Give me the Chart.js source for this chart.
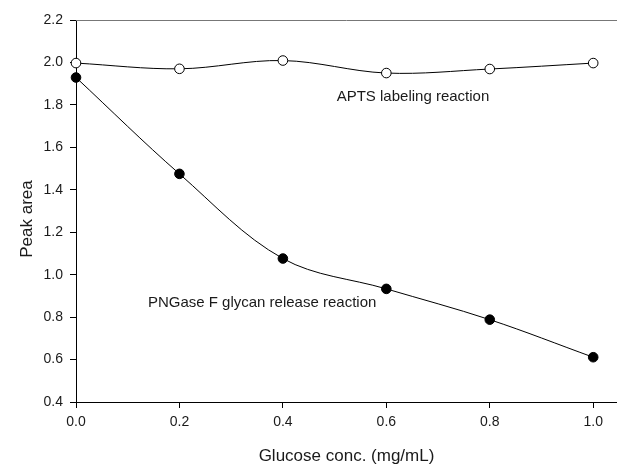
<!DOCTYPE html>
<html>
<head>
<meta charset="utf-8">
<title>Peak area vs glucose conc.</title>
<script src="https://cdn.jsdelivr.net/npm/chart.js@4"></script>
<style>
    html, body { margin: 0; padding: 0; background: #fff; overflow: hidden; }
    #wrap { width: 617px; height: 464px; position: relative; }
</style>
</head>
<body>
<div id="wrap"><canvas id="chart"></canvas></div>
<script>
// --- DADOS ---
const glucoseConc = [0.0, 0.2, 0.4, 0.6, 0.8, 1.0];
const aptsArea = [1.997, 1.970, 2.009, 1.950, 1.969, 1.997];
const pngaseArea = [1.929, 1.475, 1.076, 0.933, 0.788, 0.611];
const xTicks = [0.0, 0.2, 0.4, 0.6, 0.8, 1.0];
const yTicks = [0.4, 0.6, 0.8, 1.0, 1.2, 1.4, 1.6, 1.8, 2.0, 2.2];

// rótulos dentro do gráfico (posição em unidades dos eixos)
const notes = [
    { text: 'APTS labeling reaction', x: 0.504, y: 1.840 },
    { text: 'PNGase F glycan release reaction', x: 0.139, y: 0.867 }
];

const FONT = '"Liberation Sans", Arial, sans-serif';
const INK = '#1a1a1a';
const toPoints = (ys) => glucoseConc.map((x, i) => ({ x, y: ys[i] }));

// --- PLUGIN: moldura superior, títulos dos eixos e rótulos ---
const decorations = {
    id: 'decorations',
    afterDraw(chart) {
        const { ctx, chartArea, scales } = chart;
        ctx.save();

        // linha de cima (cinza)
        ctx.strokeStyle = '#777';
        ctx.lineWidth = 1;
        ctx.beginPath();
        ctx.moveTo(chartArea.left, chartArea.top + 0.5);
        ctx.lineTo(chartArea.right, chartArea.top + 0.5);
        ctx.stroke();

        ctx.fillStyle = INK;
        ctx.textBaseline = 'middle';

        notes.forEach(n => {
            ctx.font = '15px ' + FONT;
            ctx.textAlign = 'left';
            ctx.fillText(n.text, scales.x.getPixelForValue(n.x), scales.y.getPixelForValue(n.y));
        });

        // título eixo X
        ctx.font = '17px ' + FONT;
        ctx.textAlign = 'center';
        ctx.fillText('Glucose conc. (mg/mL)', (chartArea.left + chartArea.right) / 2, 456);

        // título eixo Y
        ctx.translate(27, 219);
        ctx.rotate(-Math.PI / 2);
        ctx.fillText('Peak area', 0, 0);

        ctx.restore();
    }
};

const ctx = document.getElementById('chart').getContext('2d');
new Chart(ctx, {
    type: 'line',
    data: {
        datasets: [
            {
                label: 'APTS labeling reaction',
                data: toPoints(aptsArea),
                borderColor: '#000',
                borderWidth: 1,
                pointBackgroundColor: '#fff',
                pointBorderColor: '#000',
                pointBorderWidth: 1,
                pointRadius: 4.8,
                tension: 0.35,
                clip: false
            },
            {
                label: 'PNGase F glycan release reaction',
                data: toPoints(pngaseArea),
                borderColor: '#000',
                borderWidth: 1,
                pointBackgroundColor: '#000',
                pointBorderColor: '#000',
                pointRadius: 4.8,
                tension: 0.35,
                clip: false
            }
        ]
    },
    options: {
        responsive: true,
        maintainAspectRatio: false,
        animation: false,
        layout: { autoPadding: false, padding: { top: 20, right: 0, left: 0, bottom: 0 } },
        plugins: {
            legend: { display: false },
            tooltip: { enabled: false }
        },
        scales: {
            x: {
                type: 'linear',
                min: 0,
                max: 1.046,
                afterFit: (s) => { s.height = 62; s.paddingLeft = 0; s.paddingRight = 0; },
                afterBuildTicks: (s) => { s.ticks = xTicks.map(v => ({ value: v })); },
                grid: { drawOnChartArea: false, tickLength: 6, color: '#000' },
                border: { color: '#000', width: 1 },
                ticks: {
                    padding: 6,
                    color: INK,
                    font: { family: FONT, size: 14 },
                    callback: (v) => v.toFixed(1)
                }
            },
            y: {
                min: 0.4,
                max: 2.2,
                afterFit: (s) => { s.width = 76; s.paddingTop = 0; s.paddingBottom = 0; },
                afterBuildTicks: (s) => { s.ticks = yTicks.map(v => ({ value: v })); },
                grid: { drawOnChartArea: false, tickLength: 6, color: '#000' },
                border: { color: '#000', width: 1 },
                ticks: {
                    padding: 7,
                    color: INK,
                    font: { family: FONT, size: 14 },
                    callback: (v) => v.toFixed(1)
                }
            }
        }
    },
    plugins: [decorations]
});
</script>
</body>
</html>
